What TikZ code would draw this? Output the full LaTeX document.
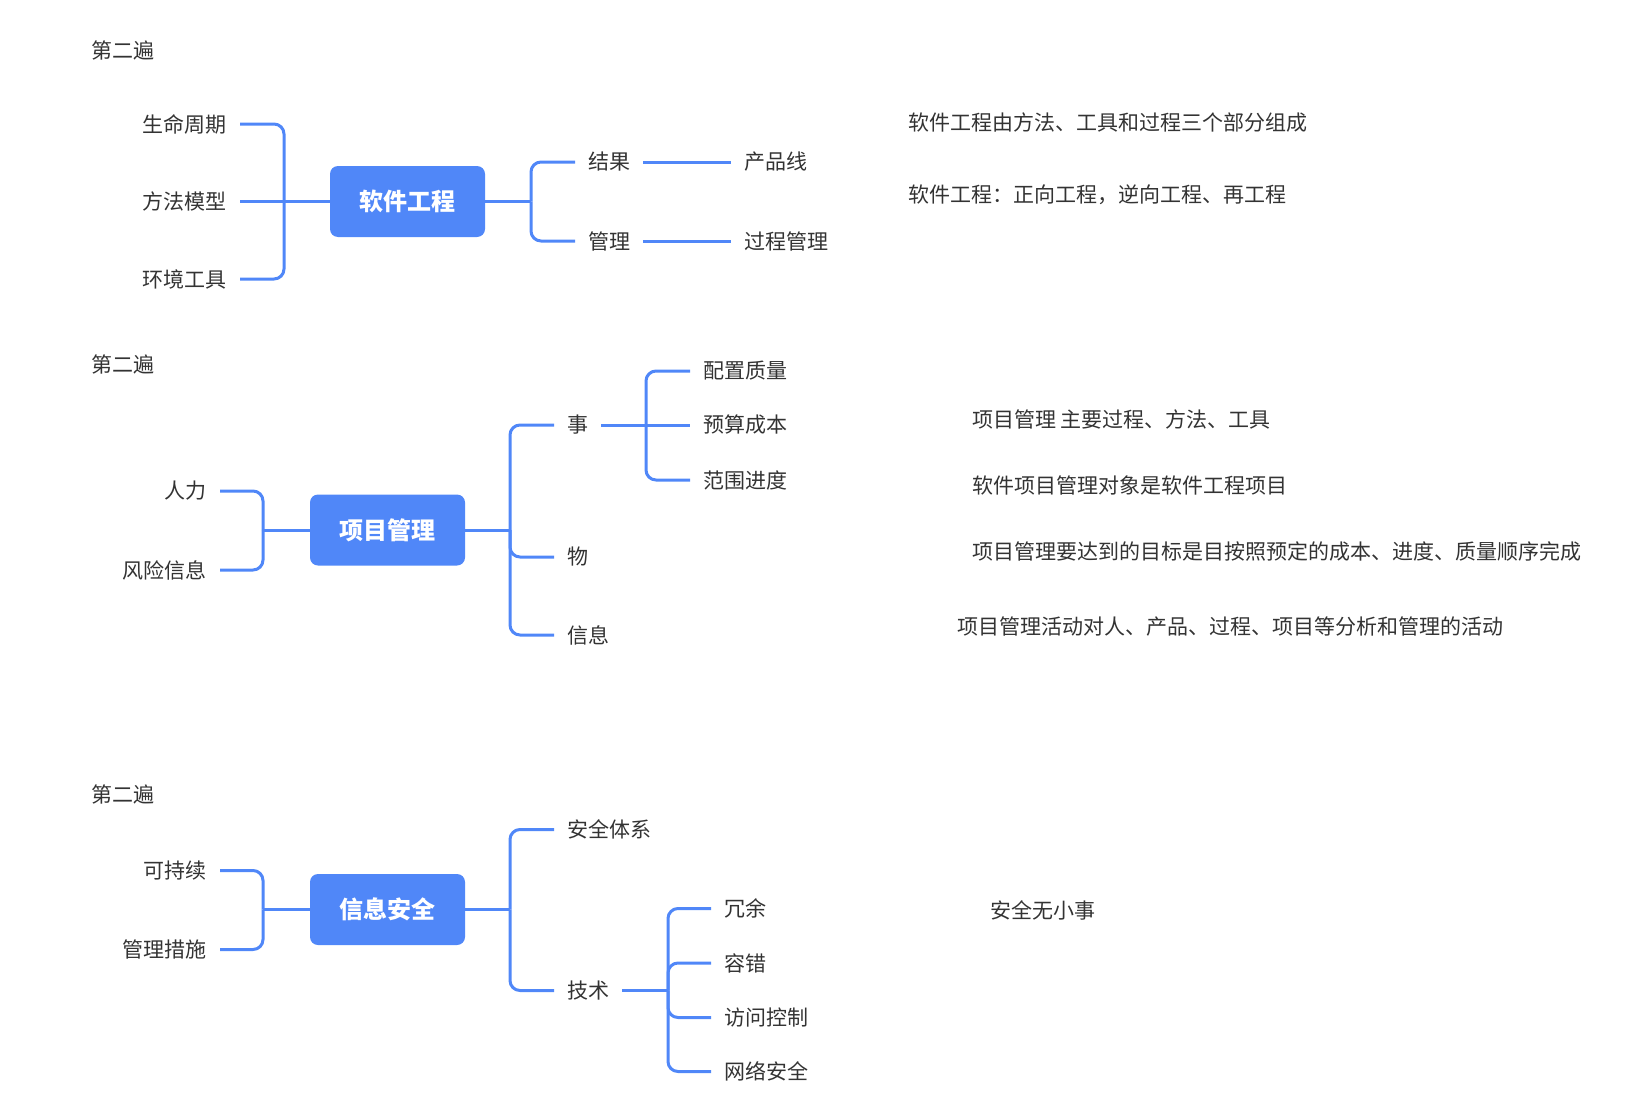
\documentclass[tikz,border=0pt]{standalone}
\usepackage{fontspec}
\setmainfont{Noto Sans CJK SC}
\definecolor{tFill}{HTML}{5087F8}
\definecolor{lColor}{HTML}{5087F8}
\definecolor{txtColor}{HTML}{333333}
\tikzset{
    Topic/.style = {
        fill=tFill, text=white, rounded corners=8pt,
        minimum width=155pt, minimum height=71pt,
        font=\fontsize{24}{28}\selectfont\bfseries
    },
    Item/.style = {
        text=txtColor, inner xsep=13pt, inner ysep=0pt,
        font=\fontsize{21}{25}\selectfont
    },
    Note/.style = {
        text=txtColor, inner sep=0pt, anchor=west,
        font=\fontsize{21}{25}\selectfont
    },
    Link/.style = {draw=lColor, line width=3pt, rounded corners=10pt}
}

\begin{document}
\begin{tikzpicture}[x=1pt, y=-1pt]
    \useasboundingbox (0,0) rectangle (1646,1116);
    % software engineering
    \node [Note] (T1) at (91,50) {第二遍};
    \node [Topic] (SE) at (407.5,201.5) {软件工程};
    \node [Item, anchor=east] (SE1) at (240,124) {生命周期};
    \node [Item, anchor=east] (SE2) at (240,201.5) {方法模型};
    \node [Item, anchor=east] (SE3) at (240,279) {环境工具};
    \node [Item, anchor=west] (SEa) at (575,162) {结果};
    \node [Item, anchor=west] (SEb) at (575,241) {管理};
    \node [Item, anchor=west] (SEa1) at (731,162) {产品线};
    \node [Item, anchor=west] (SEb1) at (731,241) {过程管理};
    \node [Note] (N1) at (908,123) {软件工程由方法、工具和过程三个部分组成};
    \node [Note] (N2) at (908,195) {软件工程：正向工程，逆向工程、再工程};
    \coordinate (SEl) at (284,201.5);
    \coordinate (SEr) at (531,201.5);
    \draw [Link] (SE2.east) -- (SE.west);
    \draw [Link] (SEl) |- (SE1.east);
    \draw [Link] (SEl) |- (SE3.east);
    \draw [Link] (SE.east) -- (SEr);
    \draw [Link] (SEr) |- (SEa.west);
    \draw [Link] (SEr) |- (SEb.west);
    \draw [Link] (SEa.east) -- (SEa1.west);
    \draw [Link] (SEb.east) -- (SEb1.west);

    % project management
    \node [Note] (T2) at (91,364) {第二遍};
    \node [Topic] (PM) at (387.5,530) {项目管理};
    \node [Item, anchor=east] (PM1) at (220,491) {人力};
    \node [Item, anchor=east] (PM2) at (220,570) {风险信息};
    \node [Item, anchor=west] (PMa) at (554,425) {事};
    \node [Item, anchor=west] (PMb) at (554,557) {物};
    \node [Item, anchor=west] (PMc) at (554,635) {信息};
    \node [Item, anchor=west] (PMa1) at (690,371) {配置质量};
    \node [Item, anchor=west] (PMa2) at (690,425) {预算成本};
    \node [Item, anchor=west] (PMa3) at (690,480) {范围进度};
    \node [Note] (N3) at (972,419) {项目管理 主要过程、方法、工具};
    \node [Note] (N4) at (972,485) {软件项目管理对象是软件工程项目};
    \node [Note] (N5) at (972,551) {项目管理要达到的目标是目按照预定的成本、进度、质量顺序完成};
    \node [Note] (N6) at (957,627) {项目管理活动对人、产品、过程、项目等分析和管理的活动};
    \coordinate (PMl) at (263,530);
    \coordinate (PMr) at (510,530);
    \coordinate (PMs) at (646,425);
    \draw [Link] (PMl) -- (PM.west);
    \draw [Link] (PMl) |- (PM1.east);
    \draw [Link] (PMl) |- (PM2.east);
    \draw [Link] (PM.east) -- (PMr);
    \draw [Link] (PMr) |- (PMa.west);
    \draw [Link] (PMr) |- (PMb.west);
    \draw [Link] (PMr) |- (PMc.west);
    \draw [Link] (PMa.east) -- (PMa2.west);
    \draw [Link] (PMs) |- (PMa1.west);
    \draw [Link] (PMs) |- (PMa3.west);

    % information security
    \node [Note] (T3) at (91,794) {第二遍};
    \node [Topic] (IS) at (387.5,909.5) {信息安全};
    \node [Item, anchor=east] (IS1) at (220,870.5) {可持续};
    \node [Item, anchor=east] (IS2) at (220,949.5) {管理措施};
    \node [Item, anchor=west] (ISa) at (554,829.5) {安全体系};
    \node [Item, anchor=west] (ISb) at (554,990.5) {技术};
    \node [Item, anchor=west] (ISb1) at (711,908.5) {冗余};
    \node [Item, anchor=west] (ISb2) at (711,963) {容错};
    \node [Item, anchor=west] (ISb3) at (711,1017.5) {访问控制};
    \node [Item, anchor=west] (ISb4) at (711,1071.5) {网络安全};
    \node [Note] (N7) at (990,910) {安全无小事};
    \coordinate (ISl) at (263,909.5);
    \coordinate (ISr) at (510,909.5);
    \coordinate (ISs) at (668,990.5);
    \draw [Link] (ISl) -- (IS.west);
    \draw [Link] (ISl) |- (IS1.east);
    \draw [Link] (ISl) |- (IS2.east);
    \draw [Link] (IS.east) -- (ISr);
    \draw [Link] (ISr) |- (ISa.west);
    \draw [Link] (ISr) |- (ISb.west);
    \draw [Link] (ISb.east) -- (ISs);
    \draw [Link] (ISs) |- (ISb1.west);
    \draw [Link] (ISs) |- (ISb2.west);
    \draw [Link] (ISs) |- (ISb3.west);
    \draw [Link] (ISs) |- (ISb4.west);
\end{tikzpicture}
\end{document}
